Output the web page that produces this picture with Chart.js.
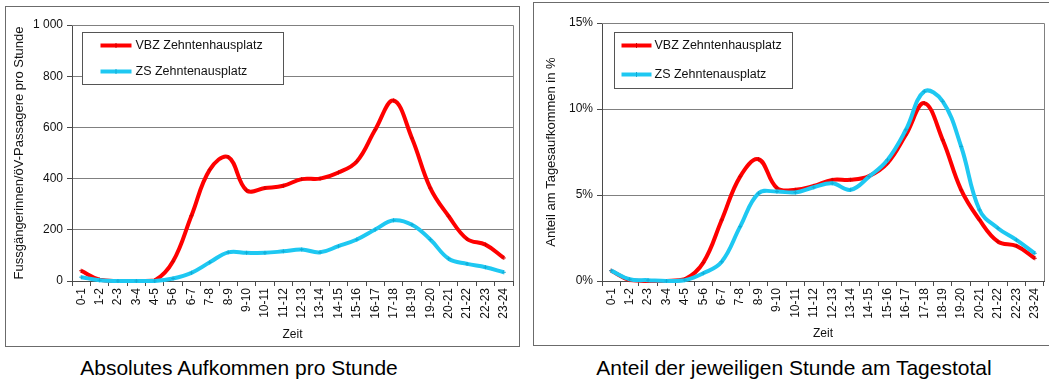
<!DOCTYPE html>
<html>
<head>
<meta charset="utf-8">
<script src="https://cdn.jsdelivr.net/npm/chart.js@4.4.1/dist/chart.umd.min.js"></script>
<style>
  html, body { margin: 0; padding: 0; background: #fff; }
  body { width: 1049px; height: 380px; overflow: hidden; position: relative;
         font-family: "Liberation Sans", Arial, sans-serif; }
  .frame { position: absolute; border: 1px solid #6b6b6b; box-sizing: border-box; }
  canvas { position: absolute; }
  .caption { position: absolute; font-size: 21px; line-height: 24px; color: #000;
             text-align: center; white-space: nowrap; }
</style>
</head>
<body>
<div class="frame" style="left:5px;top:6px;width:515px;height:341px"></div>
<canvas id="absChart" width="513" height="339" style="left:6px;top:7px"></canvas>

<div class="frame" style="left:533px;top:2px;width:530px;height:344px"></div>
<canvas id="shareChart" width="515" height="342" style="left:534px;top:3px"></canvas>

<div class="caption" style="left:0px;width:478px;top:356px">Absolutes Aufkommen pro Stunde</div>
<div class="caption" style="left:544px;width:500px;top:356px">Anteil der jeweiligen Stunde am Tagestotal</div>

<script>
// Hour slots of the day
const hours = ['0-1','1-2','2-3','3-4','4-5','5-6','6-7','7-8','8-9','9-10','10-11','11-12',
               '12-13','13-14','14-15','15-16','16-17','17-18','18-19','19-20','20-21','21-22','22-23','23-24'];

const seriesNames = ['VBZ Zehntenhausplatz', 'ZS Zehntenausplatz'];

// Pedestrians / public transport passengers per hour
const vbzAbsolute = [40, 5, 0, 0, 2, 77, 255, 435, 484, 354, 363, 372,
                     398, 400, 424, 467, 591, 705, 558, 363, 253, 164, 142, 90];
const zsAbsolute  = [15, 3, 0, 0, 0, 10, 32, 73, 112, 110, 110, 116,
                     123, 112, 136, 162, 201, 237, 220, 162, 87, 67, 54, 34];

// Share of the daily total per hour, in %
const vbzShare = [0.6, 0.05, 0.0, 0.0, 0.1, 1.07, 3.55, 6.07, 7.08, 5.4, 5.3, 5.53,
                  5.88, 5.88, 6.1, 6.85, 8.5, 10.34, 8.2, 5.3, 3.55, 2.29, 2.04, 1.32];
const zsShare  = [0.6, 0.1, 0.05, 0.0, 0.05, 0.45, 1.12, 3.16, 5.1, 5.2, 5.15, 5.45,
                  5.68, 5.3, 6.07, 7.04, 8.79, 11.02, 10.44, 7.82, 4.13, 3.07, 2.39, 1.61];

// Y axis ticks
const absTicks   = { max: 1000, step: 200 };
const shareTicks = { max: 15, step: 5 };

const RED = '#ff0000';
const CYAN = '#1ec8f2';
const FONT = '"Liberation Sans", Arial, sans-serif';
const GRID = '#808080';
const AXIS = '#4a4a4a';

// Frame around the plot area (top and right edges)
const plotFrame = {
  id: 'plotFrame',
  beforeDatasetsDraw(chart) {
    const { ctx, chartArea: a } = chart;
    ctx.save();
    ctx.strokeStyle = GRID;
    ctx.lineWidth = 1;
    ctx.beginPath();
    ctx.moveTo(a.left, Math.round(a.top) + 0.5);
    ctx.lineTo(Math.round(a.right) + 0.5, Math.round(a.top) + 0.5);
    ctx.lineTo(Math.round(a.right) + 0.5, a.bottom);
    ctx.stroke();
    ctx.restore();
  }
};

// Boxed legend drawn inside the plot area
const insideLegend = {
  id: 'insideLegend',
  afterDraw(chart, args, o) {
    const { ctx, chartArea: a } = chart;
    const x = Math.round(a.left + o.dx) + 0.5, y = Math.round(a.top + o.dy) + 0.5;
    ctx.save();
    ctx.fillStyle = '#fff';
    ctx.strokeStyle = '#555';
    ctx.lineWidth = 1;
    ctx.fillRect(x, y, o.w, o.h);
    ctx.strokeRect(x, y, o.w, o.h);
    chart.data.datasets.forEach((ds, i) => {
      const ry = y + o.rows[i];
      ctx.strokeStyle = ds.borderColor;
      ctx.lineWidth = 4;
      ctx.lineCap = 'butt';
      ctx.beginPath();
      ctx.moveTo(x + o.s0, ry);
      ctx.lineTo(x + o.s1, ry);
      ctx.stroke();
      ctx.strokeStyle = ds.pointBorderColor;
      ctx.lineWidth = 1;
      const mx = x + (o.s0 + o.s1) / 2;
      ctx.beginPath();
      ctx.moveTo(mx, ry - 2.5); ctx.lineTo(mx, ry + 2.5);
      ctx.stroke();
      ctx.fillStyle = '#111';
      ctx.font = o.fontSize + 'px ' + FONT;
      ctx.textBaseline = 'middle';
      ctx.textAlign = 'left';
      ctx.fillText(ds.label, x + o.tx, ry);
    });
    ctx.restore();
  }
};

function lineSet(label, data, color, marker, order) {
  return {
    label, data, order,
    borderColor: color, backgroundColor: color,
    borderWidth: 4, tension: 0.4, fill: false,
    pointStyle: 'cross', pointRadius: 2, pointBorderWidth: 1,
    pointBorderColor: marker, pointBackgroundColor: marker,
    clip: false
  };
}

function buildChart(id, cfg) {
  return new Chart(document.getElementById(id), {
    type: 'line',
    data: {
      labels: hours,
      datasets: [
        lineSet(seriesNames[0], cfg.red, RED, '#d40000', 1),
        lineSet(seriesNames[1], cfg.cyan, CYAN, '#12acd6', 0)
      ]
    },
    options: {
      responsive: false,
      animation: false,
      devicePixelRatio: 1,
      layout: { padding: { top: cfg.padTop, right: cfg.padRight, left: 0, bottom: 0 } },
      plugins: {
        legend: { display: false },
        tooltip: { enabled: false },
        insideLegend: cfg.legend
      },
      scales: {
        x: {
          type: 'category',
          offset: true,
          grid: { offset: true, drawOnChartArea: false, drawTicks: true, tickLength: 5, color: AXIS },
          border: { display: true, color: AXIS, width: 1 },
          ticks: { autoSkip: false, minRotation: 90, maxRotation: 90, padding: 2,
                   color: '#111', font: { family: FONT, size: 12 } },
          title: { display: true, text: 'Zeit', color: '#111',
                   font: { family: FONT, size: 12 }, padding: { top: 0, bottom: 4 } },
          afterFit(s) { s.height = cfg.xHeight; s.paddingLeft = 0; s.paddingRight = 0; }
        },
        y: {
          min: 0, max: cfg.ticks.max,
          grid: { color: GRID, tickLength: 5, drawTicks: true,
                  tickColor: AXIS },
          border: { display: true, color: AXIS, width: 1 },
          ticks: { stepSize: cfg.ticks.step, padding: 4, color: '#111',
                   font: { family: FONT, size: 12 }, callback: cfg.fmt },
          title: { display: true, text: cfg.yTitle, color: '#111',
                   font: { family: FONT, size: 13 }, padding: { top: cfg.yTitlePad, bottom: 0 } },
          afterFit(s) { s.width = cfg.yWidth; s.paddingTop = 0; s.paddingBottom = 0; }
        }
      }
    },
    plugins: [plotFrame, insideLegend]
  });
}

buildChart('absChart', {
  red: vbzAbsolute, cyan: zsAbsolute, ticks: absTicks,
  fmt: v => v >= 1000 ? Math.floor(v / 1000) + ' ' + String(v % 1000).padStart(3, '0') : String(v),
  yTitle: 'Fussgängerinnen/öV-Passagere pro Stunde', yTitlePad: 6,
  padTop: 18, padRight: 6, xHeight: 65, yWidth: 66,
  legend: { dx: 10, dy: 7, w: 201, h: 52, rows: [13, 39], s0: 18, s1: 49, tx: 53, fontSize: 12.5 }
});

buildChart('shareChart', {
  red: vbzShare, cyan: zsShare, ticks: shareTicks,
  fmt: v => v + '%',
  yTitle: 'Anteil am Tagesaufkommen in %', yTitlePad: 10,
  padTop: 20, padRight: 4, xHeight: 64, yWidth: 68,
  legend: { dx: 12, dy: 9, w: 178, h: 56, rows: [13, 42], s0: 7, s1: 37, tx: 40, fontSize: 12.5 }
});
</script>
</body>
</html>
